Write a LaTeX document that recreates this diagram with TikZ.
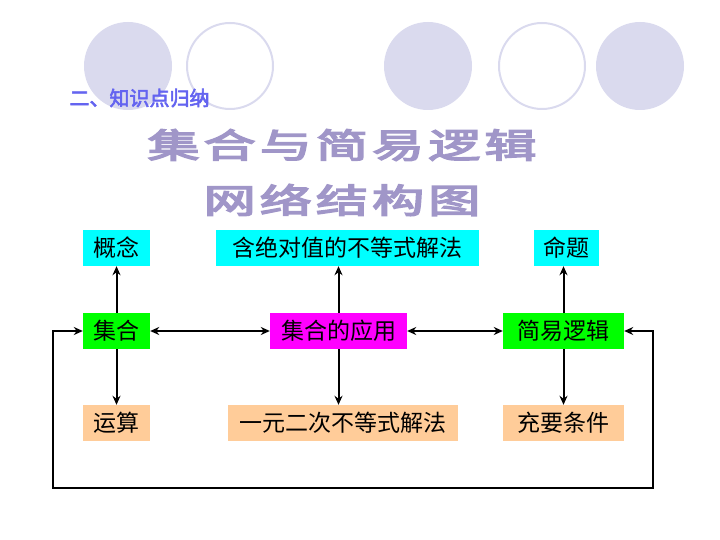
\documentclass[tikz,border=0pt]{standalone}
\usepackage{fontspec}
\newfontfamily\cjk[AutoFakeBold=3]{Noto Sans CJK SC}
\newfontfamily\cjktitle[AutoFakeBold=4,LetterSpace=8]{Noto Sans CJK SC}
\definecolor{lav}{RGB}{218,218,238}
\definecolor{boxcyan}{RGB}{0,255,255}
\definecolor{boxgreen}{RGB}{0,255,0}
\definecolor{boxmag}{RGB}{255,0,255}
\definecolor{boxpeach}{RGB}{255,204,153}
\definecolor{headblue}{RGB}{100,100,240}
\definecolor{titlefill}{RGB}{160,150,200}
\usetikzlibrary{arrows.meta}
\begin{document}
\begin{tikzpicture}[x=1pt,y=-1pt,
  conbox/.style={minimum height=36pt,inner sep=0pt,font=\cjk\fontsize{23}{23}\selectfont},
  titletext/.style={text=titlefill,font=\cjktitle\bfseries\fontsize{40}{40}\selectfont},
  arr/.style={-{Stealth[length=9pt,width=8pt]},line width=2pt},
  darr/.style={{Stealth[length=9pt,width=8pt]}-{Stealth[length=9pt,width=8pt]},line width=2pt}]
\useasboundingbox (0,0) rectangle (720,540);
% circles
\fill[lav] (128,66) circle (44);
\draw[lav,line width=2pt] (230,66) circle (43);
\fill[lav] (428,66) circle (44);
\draw[lav,line width=2pt] (542,66) circle (43);
\fill[lav] (640,66) circle (44);
% heading and title
\node[anchor=west,text=headblue,font=\cjk\bfseries\fontsize{20}{20}\selectfont] (head) at (66,98) {二、知识点归纳};
\node[titletext] (t1) at (342,145) {\scalebox{1.3}[0.85]{集合与简易逻辑}};
\node[titletext] (t2) at (342,200) {\scalebox{1.3}[0.85]{网络结构图}};
% boxes
\node[conbox,fill=boxcyan,minimum width=67pt] (gn) at (116.5,248) {概念};
\node[conbox,fill=boxcyan,minimum width=263pt] (hj) at (347.5,248) {含绝对值的不等式解法};
\node[conbox,fill=boxcyan,minimum width=65pt] (mt) at (566.5,248) {命题};
\node[conbox,fill=boxgreen,minimum width=67pt] (jh) at (116.5,331) {集合};
\node[conbox,fill=boxmag,minimum width=137pt] (yy) at (338.5,331) {集合的应用};
\node[conbox,fill=boxgreen,minimum width=121pt] (jy) at (563.5,331) {简易逻辑};
\node[conbox,fill=boxpeach,minimum width=67pt] (ys) at (116.5,423) {运算};
\node[conbox,fill=boxpeach,minimum width=230pt] (yr) at (343,423) {一元二次不等式解法};
\node[conbox,fill=boxpeach,minimum width=121pt] (cy) at (563.5,423) {充要条件};
% connectors
\draw[arr] (jh) -- (gn);
\draw[arr] (jh) -- (ys);
\draw[arr] (yy) -- (yy |- hj.south);
\draw[arr] (yy) -- (yy |- yr.north);
\draw[arr] (jy) -- (jy |- mt.south);
\draw[arr] (jy) -- (jy |- cy.north);
\draw[darr] (jh) -- (yy);
\draw[darr] (yy) -- (jy);
\coordinate (c1) at (653,488);
\coordinate (c2) at (53,488);
\draw[darr] (jy.east) -| (c1) -- (c2) |- (jh.west);
\end{tikzpicture}
\end{document}
